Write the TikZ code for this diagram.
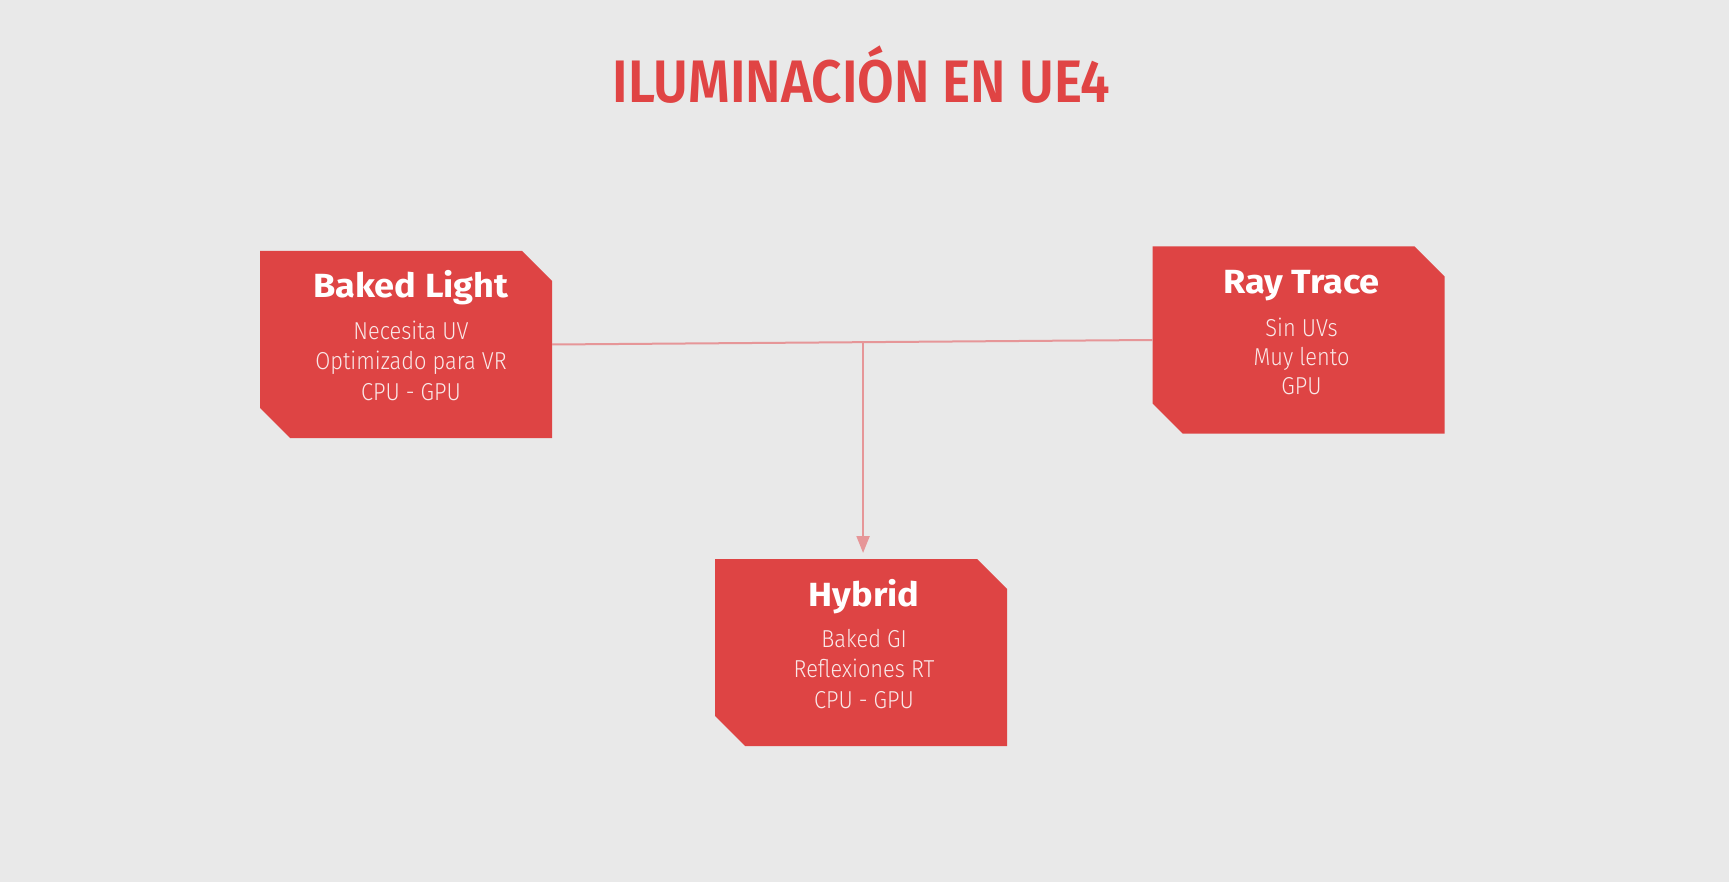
\documentclass[tikz,border=0pt]{standalone}
\usepackage{fontspec}
\setmainfont{Fira Sans}
\newfontfamily\headfont[FakeStretch=1.08]{Fira Sans Bold}
\newfontfamily\bodyfont[FakeStretch=0.89]{Fira Sans Light}
\newfontfamily\titlefont[FakeStretch=0.885]{Fira Sans SemiBold}
\usetikzlibrary{arrows.meta,calc}
\definecolor{bgcol}{RGB}{233,233,233}
\definecolor{boxred}{RGB}{222,68,68}
\definecolor{titlered}{RGB}{224,68,68}
\definecolor{linkcol}{RGB}{230,150,152}
\definecolor{bodytxt}{RGB}{250,232,232}
\tikzset{
  boxarea/.style={minimum width=292pt, minimum height=187pt, inner sep=0pt, outer sep=0pt},
  headtxt/.style={anchor=base, text=white, font=\headfont\fontsize{33.5}{38}\selectfont, inner sep=0pt},
  bodytext/.style={anchor=base, text=bodytxt, align=center, font=\bodyfont\fontsize{24.5}{30}\selectfont, inner sep=0pt},
  link/.style={draw=linkcol, line width=2pt},
  titletxt/.style={anchor=base, text=titlered, font=\titlefont\fontsize{60}{70}\selectfont, inner sep=0pt}
}
\begin{document}
\begin{tikzpicture}[x=1pt,y=-1pt]
\useasboundingbox (0,0) rectangle (1729,882);
\fill[bgcol] (0,0) rectangle (1729,882);
% title
\node[titletxt] (title) at (861.5,103) {ILUMINACIÓN EN UE4};
% box areas
\node[boxarea] (bl) at (406,344.5) {};
\node[boxarea] (rt) at (1298.5,340) {};
\node[boxarea] (hy) at (861,652.5) {};
\foreach \b in {bl,rt,hy}{
  \fill[boxred] (\b.north west) -- ([xshift=-30pt]\b.north east) -- ([yshift=-30pt]\b.north east)
     -- (\b.south east) -- ([xshift=30pt]\b.south west) -- ([yshift=30pt]\b.south west) -- cycle;
}
% connectors
\draw[link] (bl.east) -- (rt.west);
\coordinate (j) at ($(bl.east)!0.518!(rt.west)$);
\draw[link, -{Triangle[width=13pt,length=17pt]}, shorten >=6pt] (j) -- (j |- hy.north);
% texts
\node[headtxt] (blh) at ([xshift=5pt,yshift=-47pt]bl.north) {Baked Light};
\node[bodytext] (blb1) at ([xshift=5pt,yshift=-89pt]bl.north) {Necesita UV};
\node[bodytext] (blb2) at ([xshift=5pt,yshift=-119pt]bl.north) {Optimizado para VR};
\node[bodytext] (blb3) at ([xshift=5pt,yshift=-149pt]bl.north) {CPU - GPU};
\node[headtxt] (rth) at ([xshift=3pt,yshift=-47pt]rt.north) {Ray Trace};
\node[bodytext] (rtb1) at ([xshift=3pt,yshift=-90pt]rt.north) {Sin UVs};
\node[bodytext] (rtb2) at ([xshift=3pt,yshift=-119pt]rt.north) {Muy lento};
\node[bodytext] (rtb3) at ([xshift=3pt,yshift=-148pt]rt.north) {GPU};
\node[headtxt] (hyh) at ([xshift=3pt,yshift=-47pt]hy.north) {Hybrid};
\node[bodytext] (hyb1) at ([xshift=3pt,yshift=-88pt]hy.north) {Baked GI};
\node[bodytext] (hyb2) at ([xshift=3pt,yshift=-118pt]hy.north) {Reflexiones RT};
\node[bodytext] (hyb3) at ([xshift=3pt,yshift=-149pt]hy.north) {CPU - GPU};
\end{tikzpicture}
\end{document}
